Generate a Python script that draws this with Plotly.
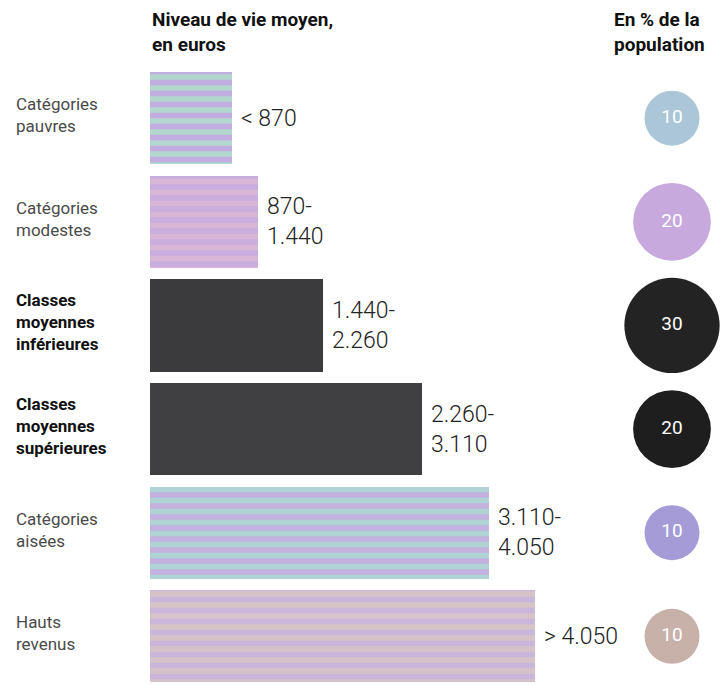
import plotly.graph_objects as go

categories = [
    "Catégories<br>pauvres",
    "Catégories<br>modestes",
    "<b>Classes<br>moyennes<br>inférieures</b>",
    "<b>Classes<br>moyennes<br>supérieures</b>",
    "Catégories<br>aisées",
    "Hauts<br>revenus",
]
income_labels = ["< 870", "870-<br>1.440", "1.440-<br>2.260", "2.260-<br>3.110", "3.110-<br>4.050", "> 4.050"]
bar_length = [82, 108, 173, 272, 339, 385]
population_pct = [10, 20, 30, 20, 10, 10]

bar_bg = ["#b3d6cf", "#c9addf", "#3b3a3c", "#403f41", "#c3b1df", "#d6c3c8"]
bar_fg = ["#c1addf", "#d7b6d8", "#3b3a3c", "#403f41", "#b0d4d4", "#c9b6da"]
bar_shape = ["-", "-", "", "", "-", "-"]
circle_colors = ["#abc6d6", "#c7a9de", "#242324", "#1f1e1f", "#a49bd7", "#c8b1a9"]
label_colors = ["#4a4a4a", "#4a4a4a", "#111111", "#111111", "#4a4a4a", "#4a4a4a"]

idx = list(range(len(categories)))
FONT = "Roboto"

fig = go.Figure()
for i in idx:
    fig.add_trace(go.Bar(
        y=[i], x=[bar_length[i]], base=0, orientation="h", width=0.89,
        marker=dict(
            color=bar_bg[i], line=dict(width=0),
            pattern=dict(shape=bar_shape[i], fgcolor=bar_fg[i], fgopacity=1,
                         size=11, solidity=0.5, fillmode="overlay"),
        ),
        hoverinfo="skip", showlegend=False,
    ))

circle_x = 522
fig.add_trace(go.Scatter(
    x=[circle_x] * len(idx), y=idx, mode="markers+text",
    marker=dict(size=population_pct, sizemode="area", sizeref=2 * 10 / 55 ** 2,
                color=circle_colors, opacity=1, line=dict(width=0)),
    text=[str(v) for v in population_pct], textposition="middle center",
    textfont=dict(family=FONT, size=19, color="white"),
    hoverinfo="skip", showlegend=False, cliponaxis=False,
))

annotations = []
for i in idx:
    annotations.append(dict(
        x=14 / 720, xref="paper", y=i, yref="y", yshift=3, text=categories[i],
        showarrow=False, xanchor="left", yanchor="middle", align="left",
        font=dict(family=FONT, size=17, color=label_colors[i]),
    ))
    annotations.append(dict(
        x=bar_length[i] + 7, xref="x", y=i, yref="y", text=income_labels[i],
        showarrow=False, xanchor="left", yanchor="middle", align="left",
        font=dict(family=FONT, size=23, color="#222222", weight=300),
    ))

annotations.append(dict(
    x=150 / 720, xref="paper", y=1 - 6 / 685, yref="paper",
    text="<b>Niveau de vie moyen,<br>en euros</b>", showarrow=False,
    xanchor="left", yanchor="top", align="left",
    font=dict(family=FONT, size=19, color="#111111"),
))
annotations.append(dict(
    x=612 / 720, xref="paper", y=1 - 6 / 685, yref="paper",
    text="<b>En % de la<br>population</b>", showarrow=False,
    xanchor="left", yanchor="top", align="left",
    font=dict(family=FONT, size=19, color="#111111"),
))

fig.update_layout(
    width=720, height=685,
    margin=dict(l=0, r=0, t=0, b=0),
    paper_bgcolor="white", plot_bgcolor="white",
    xaxis=dict(range=[-150, 570], visible=False, fixedrange=True),
    yaxis=dict(range=[5.47, -1.14], visible=False, fixedrange=True),
    annotations=annotations,
    bargap=0, barmode="overlay",
)

fig.write_html("out.html", config={"displayModeBar": False},
               post_script="document.body.style.margin='0px';")
